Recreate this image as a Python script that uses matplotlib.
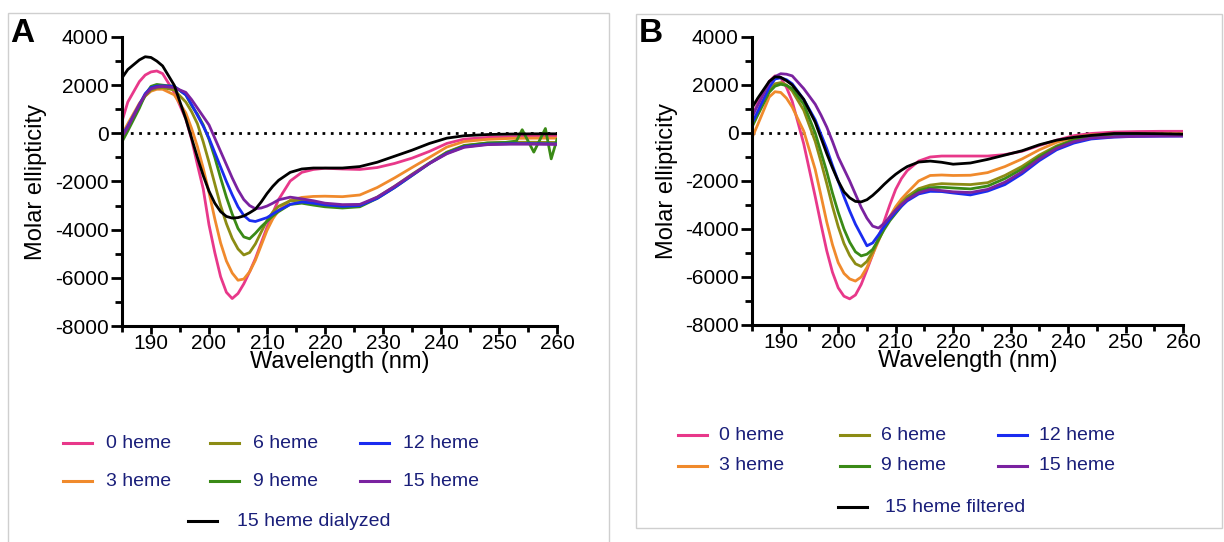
import matplotlib
matplotlib.use("Agg")
import matplotlib.pyplot as plt
from matplotlib.lines import Line2D
from matplotlib.patches import Rectangle
from matplotlib.ticker import MultipleLocator

plt.rcParams['font.family'] = ['Liberation Sans', 'DejaVu Sans']
plt.rcParams['axes.unicode_minus'] = False

# ----- wavelengths (nm) -----
wl = [185, 186, 188, 189, 190, 191, 192, 194, 196, 197, 198, 199, 200, 201, 202, 203,
      204, 205, 206, 207, 208, 209, 210, 211, 212, 214, 216, 218, 220, 223, 226, 229,
      232, 235, 238, 241, 244, 248, 252, 256, 260]
# the 9 heme trace of panel A has a noisy tail, so it gets its own x values
wl_a9 = wl[:-4] + [248, 251, 253, 254, 256, 258, 259, 260]

labels = ['0 heme', '3 heme', '6 heme', '9 heme', '12 heme', '15 heme']
colors = ['#e8388a', '#f08a2c', '#8c8c14', '#3a8a16', '#1a2cf0', '#7a22a0']

# ----- panel A: molar ellipticity -----
a0 = [500, 1300, 2150, 2420, 2550, 2590, 2480, 1700, 600, -250, -1300, -2300, -3800,
      -4950, -5950, -6600, -6860, -6650, -6250, -5750, -5200, -4550, -3900, -3300, -2750,
      -1980, -1620, -1500, -1450, -1480, -1500, -1420, -1250, -1030, -750, -420, -240,
      -170, -140, -120, -100]
a3 = [-50, 400, 1250, 1550, 1750, 1830, 1830, 1600, 850, 200, -550, -1450, -2450, -3550,
      -4550, -5300, -5800, -6100, -6050, -5750, -5270, -4650, -4030, -3550, -3200,
      -2780, -2660, -2620, -2610, -2630, -2560, -2250, -1850, -1420, -1000, -570, -340,
      -250, -210, -200, -200]
a6 = [-250, 200, 1150, 1550, 1800, 1880, 1900, 1800, 1300, 900, 400, -350, -1200, -2100,
      -3000, -3750, -4360, -4800, -5050, -4950, -4590, -4100, -3620, -3270, -3030,
      -2800, -2780, -2850, -2950, -3030, -3000, -2650, -2200, -1700, -1230, -780, -500,
      -400, -370, -370, -380]
a9 = [-350, 100, 1050, 1600, 1950, 2030, 2000, 1950, 1600, 1150, 800, 350, -250, -1000,
      -1850, -2650, -3350, -3950, -4300, -4380, -4150, -3880, -3650, -3430, -3250,
      -2950, -2900, -2980, -3050, -3100, -3050, -2700, -2250, -1750, -1250, -800, -520,
      -400, -380, -320, 150, -780, 200, -1060, -250]
a12 = [-100, 300, 1200, 1650, 1900, 1960, 1970, 1950, 1600, 1200, 750, 300, -200, -800,
       -1400, -2000, -2550, -3050, -3410, -3620, -3660, -3580, -3500, -3350, -3200,
       -2950, -2850, -2900, -2970, -3030, -3000, -2700, -2250, -1750, -1250, -830, -560,
       -450, -430, -430, -440]
a15 = [-150, 250, 1200, 1600, 1850, 1920, 1950, 1900, 1700, 1400, 1050, 700, 350, -200,
       -750, -1300, -1850, -2350, -2750, -3000, -3130, -3100, -3020, -2900, -2760,
       -2650, -2720, -2800, -2900, -2960, -2950, -2650, -2200, -1720, -1250, -850, -580,
       -470, -450, -450, -460]
a_dial = [2300, 2650, 3050, 3180, 3150, 3000, 2800, 2000, 600, -200, -1000, -1750, -2400,
          -2900, -3250, -3450, -3520, -3500, -3430, -3300, -3150, -2850, -2500, -2200,
          -1950, -1620, -1480, -1440, -1440, -1440, -1380, -1200, -950, -700, -420, -200,
          -100, -50, -30, -20, -20]

# ----- panel B: molar ellipticity -----
b0 = [650, 1250, 2150, 2380, 2300, 1900, 1320, -450, -2650, -3800, -4900, -5800, -6450,
      -6800, -6910, -6750, -6310, -5700, -5060, -4350, -3670, -2980, -2350, -1900, -1570,
      -1170, -1000, -960, -960, -960, -960, -900, -760, -520, -300, -110, -20, 40, 60,
      70, 70]
b3 = [-200, 350, 1500, 1720, 1690, 1450, 1080, 80, -1520, -2600, -3700, -4650, -5400,
      -5850, -6080, -6170, -6000, -5600, -5060, -4500, -3950, -3480, -3070, -2750, -2490,
      -2000, -1770, -1750, -1770, -1760, -1650, -1400, -1080, -700, -390, -180, -80, -40,
      -30, -30, -30]
b6 = [300, 800, 1750, 2050, 2100, 2000, 1750, 950, -350, -1200, -2100, -3050, -3900,
      -4600, -5100, -5450, -5560, -5350, -4950, -4450, -3950, -3550, -3200, -2900, -2650,
      -2320, -2170, -2110, -2130, -2150, -2070, -1770, -1390, -920, -540, -270, -140, -80,
      -50, -50, -50]
b9 = [250, 750, 1700, 1950, 2030, 1980, 1850, 1200, 0, -800, -1600, -2500, -3300, -4000,
      -4550, -4950, -5120, -5050, -4850, -4450, -4020, -3650, -3350, -3050, -2770, -2400,
      -2280, -2260, -2290, -2330, -2210, -1900, -1500, -1000, -580, -300, -160, -100,
      -80, -80, -80]
b12 = [400, 900, 1900, 2250, 2300, 2220, 2050, 1400, 550, -50, -650, -1350, -2000,
       -2650, -3250, -3800, -4250, -4700, -4580, -4250, -3900, -3580, -3300, -3050, -2830,
       -2540, -2430, -2440, -2500, -2580, -2420, -2150, -1700, -1150, -700, -420, -250,
       -170, -140, -130, -125]
b15 = [700, 1150, 2100, 2350, 2470, 2450, 2380, 1850, 1200, 750, 250, -350, -1000, -1500,
       -2000, -2550, -3100, -3550, -3880, -3960, -3770, -3480, -3210, -2980, -2770, -2490,
       -2350, -2400, -2450, -2480, -2350, -2050, -1620, -1080, -640, -360, -210, -160,
       -140, -130, -125]
b_filt = [1050, 1450, 2150, 2340, 2320, 2180, 2000, 1400, 450, -200, -850, -1450, -2000,
          -2450, -2700, -2850, -2870, -2780, -2600, -2380, -2140, -1920, -1720, -1550,
          -1400, -1210, -1170, -1220, -1300, -1250, -1100, -920, -740, -490, -300, -180,
          -100, -20, -20, -30, -50]

W, H = 1224, 542
navy = '#1a1f7a'

fig = plt.figure(figsize=(W / 100, H / 100), dpi=100)

# light grey frames round each panel
fig.patches.append(Rectangle((8 / W, -0.05), 601 / W, 1.05 - 13 / H, transform=fig.transFigure,
                             fill=False, edgecolor='#cfcfcf', lw=1))
fig.patches.append(Rectangle((636 / W, 1 - 528 / H), 586 / W, 514 / H, transform=fig.transFigure,
                             fill=False, edgecolor='#cfcfcf', lw=1))

ax_a = fig.add_axes([122 / W, 1 - 326 / H, 435 / W, 289 / H])
ax_b = fig.add_axes([752 / W, 1 - 325 / H, 431 / W, 288 / H])


def setup_axis(ax):
    ax.set_xlim(185, 260)
    ax.set_ylim(-8000, 4000)
    ax.xaxis.set_major_locator(MultipleLocator(10))
    ax.xaxis.set_minor_locator(MultipleLocator(5))
    ax.yaxis.set_major_locator(MultipleLocator(2000))
    ax.yaxis.set_minor_locator(MultipleLocator(1000))
    for s in ['top', 'right']:
        ax.spines[s].set_visible(False)
    for s in ['left', 'bottom']:
        ax.spines[s].set_linewidth(2.2)
    ax.tick_params(which='major', length=8, width=2, labelsize=15, pad=1.5)
    ax.tick_params(which='minor', length=5, width=2)
    ax.tick_params(axis='x', which='major', length=5.5, pad=0.5)
    ax.tick_params(axis='x', which='minor', length=4)
    ax.set_xticks([190, 200, 210, 220, 230, 240, 250, 260])
    ax.set_xlabel('Wavelength (nm)', fontsize=17)
    ax.set_ylabel('Molar ellipticity', fontsize=17)
    ax.xaxis.set_label_coords(0.5, -0.088)
    ax.yaxis.set_label_coords(-0.172, 0.5)
    ax.axhline(0, color='black', lw=2, ls=(0, (1, 2)), zorder=1)


setup_axis(ax_a)
setup_axis(ax_b)

series_a = [a0, a3, a6, a9, a12, a15]
x_a = [wl, wl, wl, wl_a9, wl, wl]
for xs, ys, c in zip(x_a, series_a, colors):
    ax_a.plot(xs, ys, color=c, lw=2, solid_joinstyle='round')
ax_a.plot(wl, a_dial, color='black', lw=2, solid_joinstyle='round')

series_b = [b0, b3, b6, b9, b12, b15]
for ys, c in zip(series_b, colors):
    ax_b.plot(wl, ys, color=c, lw=2, solid_joinstyle='round')
ax_b.plot(wl, b_filt, color='black', lw=2, solid_joinstyle='round')

fig.text(10 / W, 1 - 33 / H, 'A', fontsize=24, fontweight='bold', va='center')
fig.text(639 / W, 1 - 34 / H, 'B', fontsize=24, fontweight='bold', va='center')


# ----- legends drawn by hand, in pixel positions -----
def legend_entry(x, y, color, label, hl=29, gap=14):
    fig.add_artist(Line2D([x / W, (x + hl) / W], [1 - y / H, 1 - y / H], color=color,
                          lw=2.2, transform=fig.transFigure))
    fig.text((x + hl + gap) / W, 1 - y / H, label, color=navy, fontsize=14, va='center')


cols_a = [63, 210, 360]
rows_a = [443, 481]
cols_b = [678, 840, 998]
rows_b = [435, 466]
for i, (lab, c) in enumerate(zip(labels, colors)):
    legend_entry(cols_a[i // 2], rows_a[i % 2], c, lab)
    legend_entry(cols_b[i // 2], rows_b[i % 2], c, lab, gap=12)
legend_entry(188, 521, 'black', '15 heme dialyzed', gap=20)
legend_entry(838, 507, 'black', '15 heme filtered', gap=18)

fig.savefig('out.png', dpi=100)
